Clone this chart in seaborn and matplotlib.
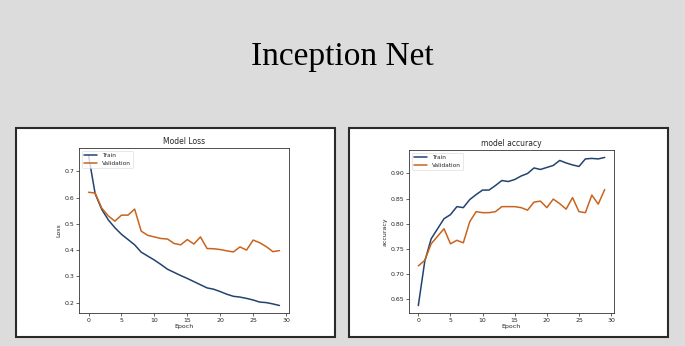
import numpy as np
import pandas as pd
import seaborn as sns
from matplotlib import pyplot as plt
from matplotlib.patches import Rectangle

# data
epochs = list(range(30))
train_loss = [0.76, 0.615, 0.555, 0.515, 0.485, 0.46, 0.44, 0.42, 0.392, 0.377,
              0.362, 0.345, 0.327, 0.315, 0.303, 0.292, 0.28, 0.268, 0.256, 0.251,
              0.242, 0.232, 0.224, 0.221, 0.216, 0.21, 0.202, 0.2, 0.195, 0.189]
val_loss = [0.62, 0.617, 0.56, 0.53, 0.51, 0.533, 0.533, 0.556, 0.472, 0.456,
            0.45, 0.444, 0.442, 0.425, 0.42, 0.44, 0.423, 0.45, 0.406, 0.405,
            0.402, 0.397, 0.393, 0.412, 0.4, 0.438, 0.428, 0.413, 0.394, 0.398]
train_acc = [0.637, 0.725, 0.77, 0.79, 0.81, 0.818, 0.834, 0.832, 0.848, 0.858,
             0.867, 0.867, 0.876, 0.886, 0.884, 0.888, 0.895, 0.9, 0.911, 0.908,
             0.912, 0.916, 0.926, 0.921, 0.917, 0.914, 0.929, 0.93, 0.929, 0.932]
val_acc = [0.716, 0.727, 0.76, 0.775, 0.79, 0.76, 0.767, 0.762, 0.804, 0.824,
           0.822, 0.822, 0.824, 0.834, 0.834, 0.834, 0.832, 0.827, 0.843, 0.845,
           0.832, 0.849, 0.84, 0.829, 0.852, 0.824, 0.822, 0.857, 0.839, 0.868]

train_color = '#23436f'
val_color = '#c8641e'

sns.set_style("ticks")
plt.rcParams['font.family'] = ['DejaVu Sans']

fig = plt.figure(figsize=(6.85, 3.46), dpi=100)
fig.patch.set_facecolor('#dcdcdc')

# big slide title
fig.text(0.5, 1 - 65 / 346, "Inception Net", ha='center', va='baseline',
         fontsize=24, family=['Liberation Serif'], color='black')

# the two white cards behind the plots
for x0 in [16, 349]:
    fig.patches.append(Rectangle((x0 / 685, 9 / 346), 319 / 685, 209 / 346,
                                 transform=fig.transFigure, facecolor='white',
                                 edgecolor='#2a2a2a', linewidth=1.5, zorder=-1))

ax1 = fig.add_axes([79 / 685, 33 / 346, 210 / 685, 165 / 346])
ax2 = fig.add_axes([409 / 685, 33 / 346, 205 / 685, 163 / 346])

sns.lineplot(x=epochs, y=train_loss, ax=ax1, label='Train', color=train_color, linewidth=1.1)
sns.lineplot(x=epochs, y=val_loss, ax=ax1, label='Validation', color=val_color, linewidth=1.1)
ax1.set_title("Model Loss", fontsize=5.5, pad=3)
ax1.set_xlabel("Epoch", fontsize=4.5, labelpad=1)
ax1.set_ylabel("Loss", fontsize=4.5, labelpad=2)
ax1.set_xticks([0, 5, 10, 15, 20, 25, 30])

sns.lineplot(x=epochs, y=train_acc, ax=ax2, label='Train', color=train_color, linewidth=1.1)
sns.lineplot(x=epochs, y=val_acc, ax=ax2, label='Validation', color=val_color, linewidth=1.1)
ax2.set_title("model accuracy", fontsize=5.5, pad=3)
ax2.set_xlabel("Epoch", fontsize=4.5, labelpad=1)
ax2.set_ylabel("accuracy", fontsize=4.5, labelpad=2)
ax2.set_xticks([0, 5, 10, 15, 20, 25, 30])
ax2.set_yticks([0.65, 0.70, 0.75, 0.80, 0.85, 0.90])

for ax in [ax1, ax2]:
    ax.set_zorder(2)
    ax.tick_params(labelsize=4.5, length=2, width=0.5, pad=1.5)
    for s in ax.spines.values():
        s.set_linewidth(0.6)
        s.set_color('#333333')
    leg = ax.legend(loc='upper left', fontsize=4.2, handlelength=2.2,
                    borderpad=0.4, labelspacing=0.4, frameon=True)
    leg.get_frame().set_linewidth(0.4)

fig.savefig('out.png', dpi=100, facecolor=fig.get_facecolor())
